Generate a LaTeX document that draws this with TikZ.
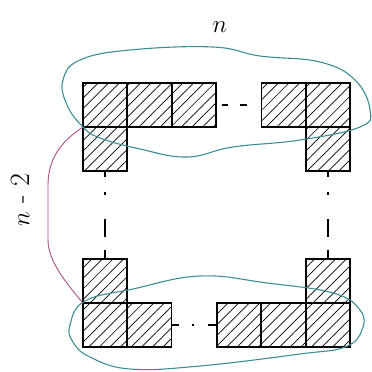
\documentclass[tikz,border=0pt]{standalone}
\usetikzlibrary{patterns.meta}
\definecolor{blobTeal}{RGB}{62,140,150}
\definecolor{linkPurple}{RGB}{170,80,130}
\tikzset{
  cell/.style={rectangle, draw=black, line width=1.1pt, minimum size=44pt,
               inner sep=0pt, pattern={Lines[angle=45, distance=7.5pt, line width=0.7pt]}},
  blob/.style={draw=blobTeal, line width=1.1pt},
  gapline/.style={black, line width=1.4pt},
  link/.style={draw=linkPurple, line width=0.9pt},
}
\begin{document}
\begin{tikzpicture}[x=1pt, y=-1pt]
  \useasboundingbox (0,0) rectangle (372,372);
  % top row
  \node[cell] (t1) at (105,105) {};
  \node[cell] (t2) at (149.5,105) {};
  \node[cell] (t3) at (194,105) {};
  \node[cell] (t4) at (283.5,105) {};
  \node[cell] (t5) at (328,105) {};
  \node[cell] (l1) at (105,149) {};
  \node[cell] (r1) at (328,149) {};
  % bottom row
  \node[cell] (l2) at (105,281) {};
  \node[cell] (r2) at (328,281) {};
  \node[cell] (b1) at (105,325) {};
  \node[cell] (b2) at (149.5,325) {};
  \node[cell] (b3) at (239,325) {};
  \node[cell] (b4) at (283.5,325) {};
  \node[cell] (b5) at (328,325) {};
  % elided parts
  \draw[gapline, dash pattern=on 0pt off 5pt on 6pt off 12pt on 7pt off 40pt] (t3.east) -- (t4.west);
  \draw[gapline, dash pattern=on 7pt off 13pt on 2pt off 14pt on 8pt off 40pt] (b2.east) -- (b3.west);
  \draw[gapline, dash pattern=on 5pt off 15pt on 3pt off 24pt on 18pt off 13pt on 12pt off 90pt] (l1.south) -- (l2.north);
  \draw[gapline, dash pattern=on 5pt off 15pt on 3pt off 24pt on 18pt off 13pt on 12pt off 90pt] (r1.south) -- (r2.north);
  % groups
  \draw[blob] plot[smooth cycle, tension=0.7] coordinates {(63,80) (80,60) (130,50) (213,47)
    (260,56) (320,62) (355,80) (370,110) (360,127) (300,140) (233,147) (187,157)
    (140,149) (100,138) (83,127) (67,105)};
  \draw[blob] plot[smooth cycle, tension=0.7] coordinates {(70,325) (85,301) (133,289)
    (200,276) (267,283) (333,293) (360,310) (362,330) (345,347) (300,354) (200,366)
    (130,369) (90,357) (73,342)};
  \draw[link] (t1.south west) .. controls (60,142) and (48,160) .. (48,185)
    -- (48,240) .. controls (48,262) and (68,285) .. (b1.north west);
  % labels
  \node[font=\fontsize{34}{38}\selectfont] (top) at (220,27) {$n$};
  \node[font=\fontsize{28}{32}\selectfont, rotate=90] (side) at (20,200) {$n$ - 2};
\end{tikzpicture}
\end{document}
